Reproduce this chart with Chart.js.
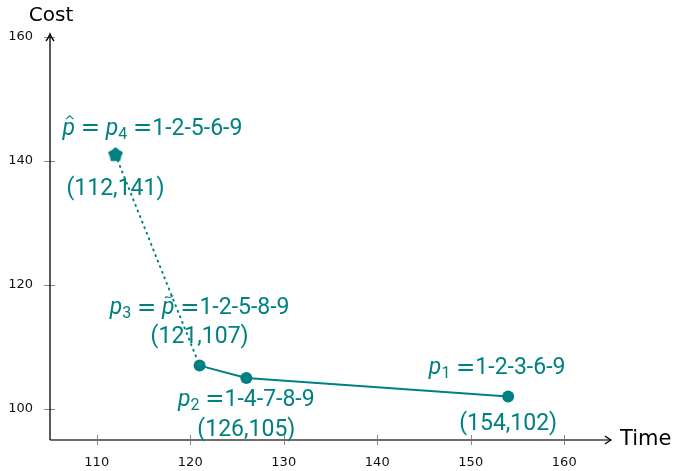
<!DOCTYPE html>
<html>
<head>
<meta charset="utf-8">
<script src="https://cdn.jsdelivr.net/npm/chart.js@4/dist/chart.umd.min.js"></script>
<style>
    html, body { margin: 0; padding: 0; background: #fff; }
    #wrap { width: 674px; height: 471px; }
</style>
</head>
<body>
<div id="wrap"><canvas id="chart"></canvas></div>
<script>
// Pareto paths: time vs cost
const timeValues = [112, 121, 126, 154];
const costValues = [141, 107, 105, 102];
// {..} = italic (with ^ hat or ~ tilde after the letter), _x = subscript
const pathNames = ['{p^} = {p}_4 =1-2-5-6-9', '{p}_3 = {p~} =1-2-5-8-9', '{p}_2 =1-4-7-8-9', '{p}_1 =1-2-3-6-9'];
const xTicks = [110, 120, 130, 140, 150, 160];
const yTicks = [100, 120, 140, 160];
const xTitle = 'Time';
const yTitle = 'Cost';

const TEAL = '#008080';
const LABEL_FONT = 'Roboto';
const LABEL_SIZE = 23;

// label offsets from the point, in pixels
const nameOffsets = [[37, -26], [0, -57], [0, 22], [-11, -28]];
const coordOffsets = [[0, 34], [0, -28], [0, 52], [0, 28]];

const points = timeValues.map((x, i) => ({ x: x, y: costValues[i] }));

// filled star marker for the chosen path
function makeStar() {
    const c = document.createElement('canvas');
    c.width = 18; c.height = 18;
    const g = c.getContext('2d');
    g.beginPath();
    for (let i = 0; i < 10; i++) {
        const r = i % 2 === 0 ? 6 : 4.4;
        const a = -Math.PI / 2 + i * Math.PI / 5;
        const px = 9 + r * Math.cos(a), py = 9 + r * Math.sin(a);
        if (i === 0) g.moveTo(px, py); else g.lineTo(px, py);
    }
    g.closePath();
    g.fillStyle = TEAL;
    g.strokeStyle = TEAL;
    g.lineWidth = 3;
    g.lineJoin = 'round';
    g.fill();
    g.stroke();
    return c;
}

function drawAccent(ctx, kind, x, w, cy) {
    const s = LABEL_SIZE;
    const mx = x + w / 2 + s * 0.04;
    const top = cy - s * 0.52;
    ctx.save();
    ctx.strokeStyle = ctx.fillStyle;
    ctx.lineWidth = 1.2;
    ctx.beginPath();
    if (kind === '^') {
        ctx.moveTo(mx - s * 0.16, top + s * 0.1);
        ctx.lineTo(mx, top - s * 0.04);
        ctx.lineTo(mx + s * 0.16, top + s * 0.1);
    } else {
        const hw = s * 0.18;
        ctx.moveTo(mx - hw, top + s * 0.06);
        ctx.bezierCurveTo(mx - hw / 2, top - s * 0.08, mx, top + s * 0.12, mx + hw / 2, top);
        ctx.quadraticCurveTo(mx + hw * 0.8, top - s * 0.05, mx + hw, top - s * 0.02);
    }
    ctx.stroke();
    ctx.restore();
}

function drawRich(ctx, str, cx, cy) {
    const parts = [];
    const re = /\{([^}]*)\}|_(.)|(=)|([^{_=]+)/g;
    let m;
    while ((m = re.exec(str)) !== null) {
        if (m[1] !== undefined) {
            const acc = /[\^~]$/.test(m[1]) ? m[1].slice(-1) : null;
            const t = acc ? m[1].slice(0, -1) : m[1];
            parts.push({ t: t, acc: acc, font: `italic ${LABEL_SIZE}px ${LABEL_FONT}`, dy: 0 });
        } else if (m[2] !== undefined) {
            parts.push({ t: m[2], font: `${Math.round(LABEL_SIZE * 0.7)}px ${LABEL_FONT}`, dy: LABEL_SIZE * 0.25 });
        } else if (m[3] !== undefined) {
            // wide math-style equals sign
            parts.push({ t: '=', font: `${LABEL_SIZE}px "DejaVu Sans"`, dy: 0 });
        } else {
            parts.push({ t: m[4], font: `${LABEL_SIZE}px ${LABEL_FONT}`, dy: 0 });
        }
    }
    let total = 0;
    parts.forEach(p => { ctx.font = p.font; p.w = ctx.measureText(p.t).width; total += p.w; });
    let x = cx - total / 2;
    ctx.textBaseline = 'middle';
    ctx.textAlign = 'left';
    parts.forEach(p => {
        ctx.font = p.font;
        ctx.fillText(p.t, x, cy + p.dy);
        if (p.acc) drawAccent(ctx, p.acc, x, p.w, cy);
        x += p.w;
    });
}

const pathLabels = {
    id: 'pathLabels',
    afterDatasetsDraw(chart) {
        const ctx = chart.ctx;
        const xs = chart.scales.x, ys = chart.scales.y;
        ctx.save();
        ctx.fillStyle = TEAL;
        points.forEach((p, i) => {
            const px = xs.getPixelForValue(p.x), py = ys.getPixelForValue(p.y);
            drawRich(ctx, pathNames[i], px + nameOffsets[i][0], py + nameOffsets[i][1]);
            drawRich(ctx, `(${p.x},${p.y})`, px + coordOffsets[i][0], py + coordOffsets[i][1]);
        });
        ctx.restore();
    }
};

const axesArrows = {
    id: 'axesArrows',
    beforeDatasetsDraw(chart) {
        const ctx = chart.ctx;
        const a = chart.chartArea;
        const xs = chart.scales.x, ys = chart.scales.y;
        ctx.save();
        // tick marks crossing the axes
        ctx.strokeStyle = '#8a8a8a';
        ctx.lineWidth = 1;
        xTicks.forEach(v => {
            const px = Math.round(xs.getPixelForValue(v)) + 0.5;
            ctx.beginPath(); ctx.moveTo(px, a.bottom - 5); ctx.lineTo(px, a.bottom + 5); ctx.stroke();
        });
        yTicks.forEach(v => {
            const py = Math.round(ys.getPixelForValue(v)) + 0.5;
            ctx.beginPath(); ctx.moveTo(a.left - 6, py); ctx.lineTo(a.left + 5, py); ctx.stroke();
        });
        // x axis
        ctx.strokeStyle = '#6e6e6e';
        ctx.lineWidth = 2;
        ctx.beginPath(); ctx.moveTo(a.left, a.bottom); ctx.lineTo(a.right, a.bottom); ctx.stroke();
        ctx.lineWidth = 1.3;
        ctx.strokeStyle = '#000';
        ctx.beginPath();
        ctx.moveTo(a.right - 6, a.bottom - 4); ctx.quadraticCurveTo(a.right - 2, a.bottom - 1, a.right, a.bottom);
        ctx.quadraticCurveTo(a.right - 2, a.bottom + 1, a.right - 6, a.bottom + 4);
        ctx.stroke();
        // y axis
        ctx.strokeStyle = '#000';
        ctx.lineWidth = 1.3;
        ctx.beginPath(); ctx.moveTo(a.left, a.bottom); ctx.lineTo(a.left, a.top - 2); ctx.stroke();
        ctx.beginPath();
        ctx.moveTo(a.left - 4, a.top + 4); ctx.quadraticCurveTo(a.left - 1, a.top, a.left, a.top - 3);
        ctx.quadraticCurveTo(a.left + 1, a.top, a.left + 4, a.top + 4);
        ctx.stroke();
        // axis titles
        ctx.fillStyle = '#000';
        ctx.font = '20px "DejaVu Sans"';
        ctx.textBaseline = 'middle';
        ctx.textAlign = 'center';
        ctx.fillText(yTitle, a.left + 1, 16);
        ctx.textAlign = 'left';
        ctx.font = '21px "DejaVu Sans"';
        ctx.fillText(xTitle, a.right + 9, a.bottom);
        ctx.restore();
    }
};

const ctx = document.getElementById('chart');
new Chart(ctx, {
    type: 'line',
    data: {
        datasets: [
            {
                label: 'dominated',
                data: points.slice(0, 2),
                borderColor: TEAL,
                borderWidth: 2,
                borderDash: [1, 5],
                borderCapStyle: 'round',
                pointStyle: [makeStar(), 'circle'],
                pointRadius: [7, 0],
                pointBackgroundColor: TEAL,
                pointBorderColor: TEAL,
                tension: 0
            },
            {
                label: 'front',
                data: points.slice(1),
                borderColor: TEAL,
                borderWidth: 2,
                pointStyle: 'circle',
                pointRadius: 6,
                pointBackgroundColor: TEAL,
                pointBorderColor: TEAL,
                pointBorderWidth: 0,
                tension: 0
            }
        ]
    },
    options: {
        responsive: true,
        maintainAspectRatio: false,
        animation: false,
        layout: {
            padding: { left: 8, right: 63, top: 37, bottom: 0 }
        },
        plugins: {
            legend: { display: false },
            tooltip: { enabled: false }
        },
        scales: {
            x: {
                type: 'linear',
                min: 105,
                max: 165,
                afterBuildTicks: s => { s.ticks = xTicks.map(v => ({ value: v })); },
                afterFit: s => { s.height = 31; },
                grid: { display: false, drawTicks: false },
                border: { display: false },
                ticks: {
                    color: '#111',
                    padding: 15,
                    maxRotation: 0,
                    font: { family: 'DejaVu Sans', size: 13 }
                }
            },
            y: {
                type: 'linear',
                min: 95,
                max: 160,
                afterBuildTicks: s => { s.ticks = yTicks.map(v => ({ value: v })); },
                afterFit: s => { s.width = 42; },
                grid: { display: false, drawTicks: false },
                border: { display: false },
                ticks: {
                    color: '#111',
                    padding: 17,
                    font: { family: 'DejaVu Sans', size: 13 }
                }
            }
        }
    },
    plugins: [axesArrows, pathLabels]
});
</script>
</body>
</html>
